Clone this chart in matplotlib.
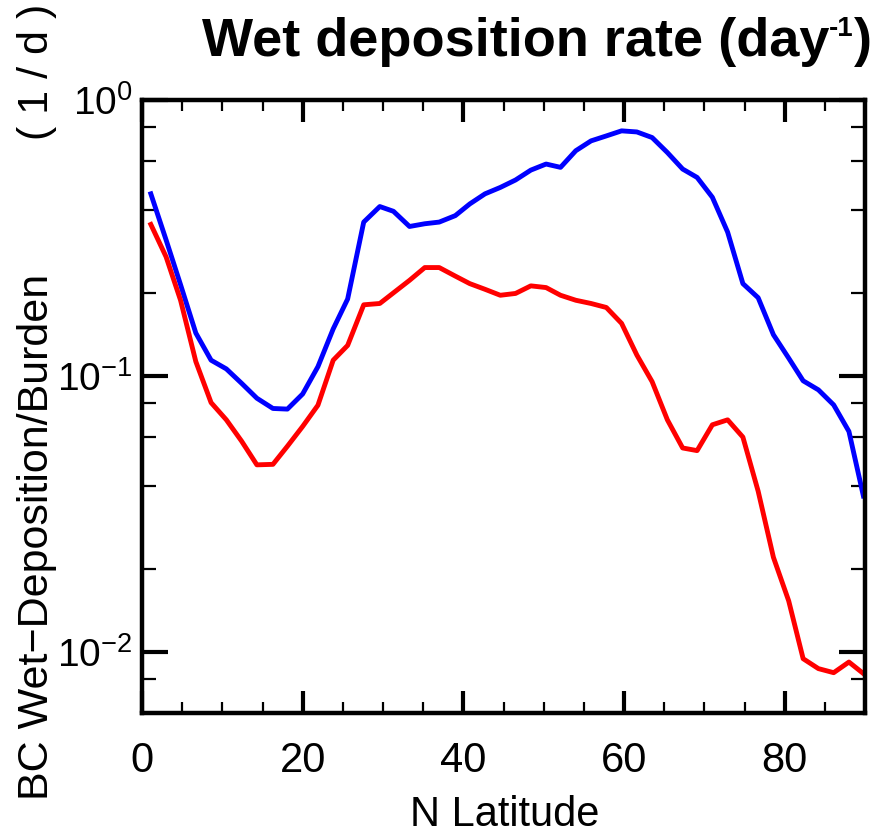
import matplotlib
matplotlib.use("Agg")
import matplotlib.pyplot as plt
from matplotlib.ticker import LogLocator, MultipleLocator, FixedLocator

# ---- data ----
lat = [1.1, 3.0, 4.8, 6.7, 8.6, 10.5, 12.4, 14.3, 16.3, 18.1, 20.0, 21.9,
       23.8, 25.6, 27.6, 29.6, 31.3, 33.3, 35.2, 37.0, 39.0, 40.8, 42.7, 44.6,
       46.5, 48.4, 50.3, 52.1, 54.0, 55.9, 57.8, 59.7, 61.6, 63.5, 65.4, 67.3,
       69.1, 71.0, 72.9, 74.8, 76.7, 78.6, 80.5, 82.3, 84.2, 86.1, 88.0, 89.8]

blue_rate = [0.457, 0.311, 0.214, 0.143, 0.114, 0.106, 0.094, 0.083, 0.0762, 0.0758, 0.086, 0.108,
             0.148, 0.190, 0.361, 0.411, 0.395, 0.348, 0.356, 0.361, 0.381, 0.420, 0.457, 0.482,
             0.513, 0.557, 0.586, 0.570, 0.655, 0.711, 0.741, 0.773, 0.766, 0.731, 0.645, 0.562,
             0.524, 0.444, 0.332, 0.216, 0.192, 0.141, 0.116, 0.096, 0.089, 0.0785, 0.0629, 0.0367]

red_rate = [0.354, 0.270, 0.188, 0.1127, 0.080, 0.0693, 0.058, 0.0476, 0.0478, 0.0556, 0.0656, 0.0783,
            0.114, 0.129, 0.181, 0.183, 0.200, 0.222, 0.247, 0.247, 0.230, 0.216, 0.206, 0.196,
            0.199, 0.212, 0.209, 0.196, 0.188, 0.183, 0.177, 0.155, 0.119, 0.0953, 0.0693, 0.0548,
            0.0536, 0.0665, 0.0693, 0.060, 0.0382, 0.022, 0.0153, 0.00944, 0.00869, 0.00840, 0.00918, 0.00834]

x_ticks = [0, 20, 40, 60, 80]
title_main = "Wet deposition rate (day"
title_sup = "-1"
title_end = ")"
ylabel_main = "BC Wet\u2212Deposition/Burden"
ylabel_unit = "( 1 / d )"
xlabel = "N Latitude"

FONT = "Liberation Sans"
plt.rcParams["font.family"] = [FONT, "DejaVu Sans"]
plt.rcParams["mathtext.fontset"] = "custom"
plt.rcParams["mathtext.rm"] = FONT
plt.rcParams["mathtext.it"] = FONT
plt.rcParams["mathtext.bf"] = FONT + ":bold"

fig = plt.figure(figsize=(8.77, 8.36), dpi=100)
ax = fig.add_axes([142 / 877, (836 - 713) / 836, (865 - 142) / 877, (713 - 100) / 836])

ax.plot(lat, blue_rate, color="#0000ff", lw=3.5)
ax.plot(lat, red_rate, color="#ff0000", lw=3.5)

ax.set_yscale("log")
ax.set_xlim(0, 90)
ax.set_ylim(0.006, 1.0)

ax.xaxis.set_major_locator(FixedLocator(x_ticks))
ax.xaxis.set_minor_locator(MultipleLocator(5))
ax.yaxis.set_major_locator(LogLocator(base=10, numticks=10))
ax.yaxis.set_minor_locator(LogLocator(base=10, subs=(2, 4, 6, 8), numticks=10))
ax.yaxis.set_minor_formatter(plt.NullFormatter())

for s in ax.spines.values():
    s.set_linewidth(3.2)

ax.tick_params(which="both", direction="in", top=True, right=True)
ax.tick_params(axis="x", which="major", length=16, width=3, pad=20, labelsize=30)
ax.tick_params(axis="x", which="minor", length=8, width=1.6)
ax.tick_params(axis="y", which="major", length=19, width=3, pad=7, labelsize=28)
ax.tick_params(axis="y", which="minor", length=10, width=1.6)

fig.text(505 / 877, 1 / 836, xlabel, ha="center", va="bottom", fontsize=30)
fig.text(37 / 877, 1 - 800 / 836, ylabel_main, ha="center", va="bottom", rotation=90, fontsize=31)
fig.text(37 / 877, 1 - 4 / 836, ylabel_unit, ha="center", va="top", rotation=90, fontsize=31)

# title built from pieces: main text, small superscript, closing bracket
renderer = fig.canvas.get_renderer()
tfont = dict(family="Liberation Sans", fontweight="bold")
y_base = 1 - 56 / 836
t_end = fig.text(872 / 877, y_base, title_end, ha="right", va="baseline", fontsize=39, **tfont)
bb = t_end.get_window_extent(renderer)
t_sup = fig.text(bb.x0 / 877, y_base + 20 / 836, title_sup, ha="right", va="baseline", fontsize=20, **tfont)
bb2 = t_sup.get_window_extent(renderer)
fig.text(bb2.x0 / 877, y_base, title_main, ha="right", va="baseline", fontsize=39, **tfont)

fig.savefig("out.png", dpi=100)
